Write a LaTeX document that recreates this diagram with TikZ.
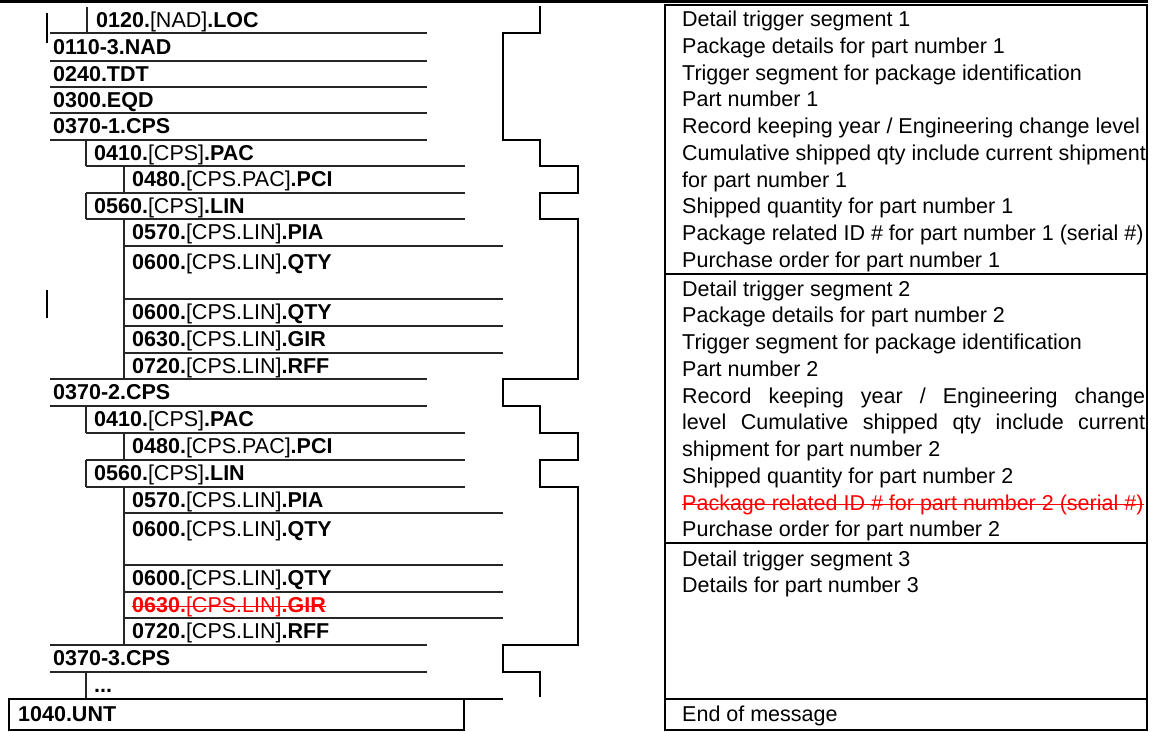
\documentclass[tikz,border=0pt]{standalone}
\usepackage{fontspec}
\setmainfont{Liberation Sans}
\usepackage{tikz}
\tikzset{seg/.style={anchor=base west,inner sep=0pt,font=\fontsize{21.5}{26}\selectfont}}
\tikzset{rule/.style={line width=1.5pt,black!85}}
\tikzset{frame/.style={line width=2pt,black}}
\tikzset{strike/.style={red,line width=1.3pt}}
\newcommand{\sg}[3]{\textbf{#1.}[#2]\textbf{.#3}}

\begin{document}
\begin{tikzpicture}[x=1pt,y=-1pt]
\useasboundingbox (0,0) rectangle (1155,731);

% left column: segment tree
\node[seg] (L1) at (96,27) {\sg{0120}{NAD}{LOC}};
\node[seg] (L2) at (53,54) {\textbf{0110-3.NAD}};
\node[seg] (L3) at (53,81) {\textbf{0240.TDT}};
\node[seg] (L4) at (53,107) {\textbf{0300.EQD}};
\node[seg] (L5) at (53,133.5) {\textbf{0370-1.CPS}};
\node[seg] (L6) at (94,160) {\sg{0410}{CPS}{PAC}};
\node[seg] (L7) at (132,186.5) {\sg{0480}{CPS.PAC}{PCI}};
\node[seg] (L8) at (94,213) {\sg{0560}{CPS}{LIN}};
\node[seg] (L9) at (132,239.5) {\sg{0570}{CPS.LIN}{PIA}};
\node[seg] (L10) at (132,269) {\sg{0600}{CPS.LIN}{QTY}};
\node[seg] (L11) at (132,319.5) {\sg{0600}{CPS.LIN}{QTY}};
\node[seg] (L12) at (132,346.5) {\sg{0630}{CPS.LIN}{GIR}};
\node[seg] (L13) at (132,373) {\sg{0720}{CPS.LIN}{RFF}};
\node[seg] (L14) at (53,399.5) {\textbf{0370-2.CPS}};
\node[seg] (L15) at (94,426.5) {\sg{0410}{CPS}{PAC}};
\node[seg] (L16) at (132,453.5) {\sg{0480}{CPS.PAC}{PCI}};
\node[seg] (L17) at (94,480.5) {\sg{0560}{CPS}{LIN}};
\node[seg] (L18) at (132,507) {\sg{0570}{CPS.LIN}{PIA}};
\node[seg] (L19) at (132,536) {\sg{0600}{CPS.LIN}{QTY}};
\node[seg] (L20) at (132,585.5) {\sg{0600}{CPS.LIN}{QTY}};
\node[seg,red] (L21) at (132,612) {\sg{0630}{CPS.LIN}{GIR}};
\node[seg] (L22) at (132,638.5) {\sg{0720}{CPS.LIN}{RFF}};
\node[seg] (L23) at (53,665.5) {\textbf{0370-3.CPS}};
\node[seg] (L24) at (94,692.5) {\textbf{...}};
\node[seg] (L25) at (18,721.5) {\textbf{1040.UNT}};
\draw[strike] ([yshift=5.5pt]L21.base west) -- ([yshift=5.5pt]L21.base east);

% rules
\draw[rule] (50,33) -- (427,33);
\draw[rule] (50,61) -- (427,61);
\draw[rule] (50,87) -- (427,87);
\draw[rule] (50,113) -- (427,113);
\draw[rule] (50,140) -- (427,140);
\draw[rule] (86,166) -- (465,166);
\draw[rule] (86,193) -- (465,193);
\draw[rule] (86,219) -- (465,219);
\draw[rule] (124,246) -- (503,246);
\draw[rule] (124,299) -- (503,299);
\draw[rule] (124,326) -- (503,326);
\draw[rule] (124,353) -- (503,353);
\draw[rule] (50,379) -- (427,379);
\draw[rule] (50,406) -- (427,406);
\draw[rule] (86,433) -- (465,433);
\draw[rule] (86,460) -- (465,460);
\draw[rule] (86,487) -- (465,487);
\draw[rule] (124,513) -- (503,513);
\draw[rule] (124,565) -- (503,565);
\draw[rule] (124,592) -- (503,592);
\draw[rule] (124,618) -- (503,618);
\draw[rule] (50,645) -- (427,645);
\draw[rule] (50,672) -- (427,672);
\draw[rule] (87,7) -- (87,33);
\draw[rule] (86,140) -- (86,166);
\draw[rule] (124,166) -- (124,193);
\draw[rule] (86,193) -- (86,219);
\draw[rule] (124,219) -- (124,379);
\draw[rule] (86,406) -- (86,433);
\draw[rule] (124,433) -- (124,460);
\draw[rule] (86,460) -- (86,487);
\draw[rule] (124,487) -- (124,645);
\draw[rule] (86,672) -- (86,698);
\draw[frame] (47,13) -- (47,43);
\draw[frame] (47,290) -- (47,318);
\draw[frame] (9,699) rectangle (464,730);
\draw[frame] (464,699) -- (503,699);

% loop bracket
\draw[frame,line join=miter] (540,6) -- (540,33) -- (503,33) -- (503,140) -- (540,140)
  -- (540,166) -- (578,166) -- (578,193) -- (540,193) -- (540,219) -- (578,219)
  -- (578,379) -- (503,379) -- (503,406) -- (540,406) -- (540,433) -- (578,433)
  -- (578,460) -- (540,460) -- (540,487) -- (578,487) -- (578,645) -- (503,645)
  -- (503,672) -- (540,672) -- (540,697);

% right column: descriptions
\draw[line width=2.5pt] (0,1.5) -- (1148,1.5);
\draw[frame] (665,5) rectangle (1147,730);
\draw[frame] (665,274) -- (1147,274);
\draw[frame] (665,543) -- (1147,543);
\draw[frame] (665,699) -- (1147,699);

\node[seg] (R1) at (682,26.5) {Detail trigger segment 1};
\node[seg] (R2) at (682,53.25) {Package details for part number 1};
\node[seg] (R3) at (682,80) {Trigger segment for package identification};
\node[seg] (R4) at (682,106.75) {Part number 1};
\node[seg] (R5) at (682,133.5) {Record keeping year / Engineering change level};
\node[seg] (R6) at (682,160.25) {Cumulative shipped qty include current shipment};
\node[seg] (R7) at (682,187) {for part number 1};
\node[seg] (R8) at (682,213.75) {Shipped quantity for part number 1};
\node[seg] (R9) at (682,240.5) {Package related ID \# for part number 1 (serial \#)};
\node[seg] (R10) at (682,267.25) {Purchase order for part number 1};

\node[seg] (R11) at (682,296) {Detail trigger segment 2};
\node[seg] (R12) at (682,322.75) {Package details for part number 2};
\node[seg] (R13) at (682,349.5) {Trigger segment for package identification};
\node[seg] (R14) at (682,376.25) {Part number 2};
\node[seg] (R15) at (682,403) {\makebox[463pt][s]{Record keeping year / Engineering change}};
\node[seg] (R16) at (682,429.75) {\makebox[463pt][s]{level Cumulative shipped qty include current}};
\node[seg] (R17) at (682,456.5) {shipment for part number 2};
\node[seg] (R18) at (682,483.25) {Shipped quantity for part number 2};
\node[seg,red] (R19) at (682,510) {Package related ID \# for part number 2 (serial \#)};
\node[seg] (R20) at (682,536.75) {Purchase order for part number 2};
\draw[strike] ([yshift=5.5pt]R19.base west) -- ([yshift=5.5pt]R19.base east);

\node[seg] (R21) at (682,566) {Detail trigger segment 3};
\node[seg] (R22) at (682,592.75) {Details for part number 3};
\node[seg] (R23) at (682,721.5) {End of message};
\end{tikzpicture}
\end{document}
